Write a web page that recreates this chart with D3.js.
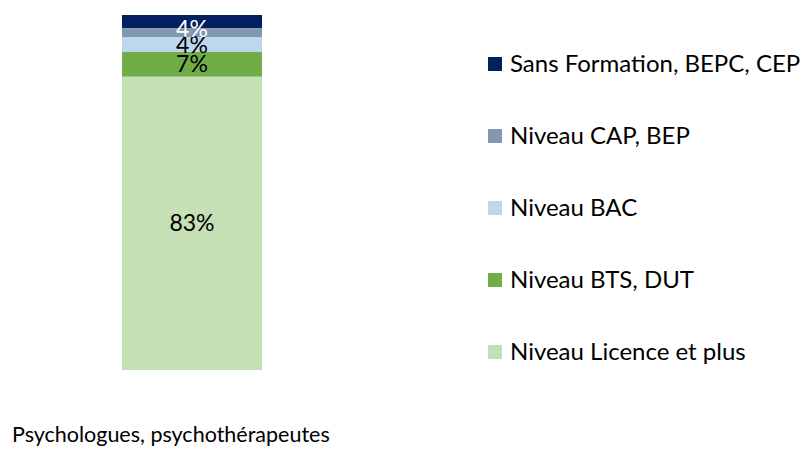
<!DOCTYPE html>
<html>
<head>
    <meta charset='utf-8'>
    <title>Psychologues, psychothérapeutes</title>
    <script src="https://cdn.jsdelivr.net/npm/d3@7"></script>
    <style>
        body { margin: 0; background: #fff; }
        text { font-family: Lato, "Open Sans", sans-serif; }
    </style>
</head>
<body>
    <svg id="chart" width="803" height="452"></svg>

    <script>

        // data (top of the stack first)
        const CATEGORY = "Psychologues, psychothérapeutes";
        const SERIES = ["Sans Formation, BEPC, CEP", "Niveau CAP, BEP", "Niveau BAC", "Niveau BTS, DUT", "Niveau Licence et plus"];
        const VALUES = [3.7, 2.5, 4.2, 7.0, 82.6];
        const LABELS = ["4%", "", "4%", "7%", "83%"];
        const COLORS = ["#002060", "#8497b0", "#bdd7ee", "#70ad47", "#c5e0b4"];
        const LABEL_COLORS = ["#ffffff", "#000000", "#000000", "#000000", "#000000"];

        const svg = d3.select("#chart");

        // stack from the bottom: reverse so Licence sits at the base
        const rows = SERIES.map((s, i) => ({ name: s, value: VALUES[i], label: LABELS[i], color: COLORS[i], labelColor: LABEL_COLORS[i] }));
        let acc = 0;
        rows.slice().reverse().forEach(d => { d.y0 = acc; acc += d.value; d.y1 = acc; });

        const xScale = d3.scaleBand()
            .domain([CATEGORY])
            .range([122, 262])
            .padding(0);

        const yScale = d3.scaleLinear()
            .domain([0, 100])
            .range([370, 15]);

        const bars = svg.append("g");

        bars.selectAll("rect")
            .data(rows)
            .enter()
            .append("rect")
            .attr("x", xScale(CATEGORY))
            .attr("width", xScale.bandwidth())
            .attr("y", d => yScale(d.y1))
            .attr("height", d => yScale(d.y0) - yScale(d.y1))
            .attr("fill", d => d.color);

        // the black labels first, so the white one sits on top like in the original
        bars.selectAll("text")
            .data(rows.filter(d => d.label !== "").reverse())
            .enter()
            .append("text")
            .attr("x", xScale(CATEGORY) + xScale.bandwidth() / 2)
            .attr("y", d => yScale((d.y0 + d.y1) / 2))
            .attr("dy", d => d.labelColor === "#ffffff" ? "0.65em" : "0.35em")
            .attr("text-anchor", "middle")
            .attr("font-size", 23)
            .attr("fill", d => d.labelColor)
            .text(d => d.label);

        // legend on the right
        const legendY = d3.scalePoint()
            .domain(SERIES)
            .range([64, 352]);

        const legend = svg.append("g")
            .selectAll("g")
            .data(rows)
            .enter()
            .append("g")
            .attr("transform", d => "translate(488," + legendY(d.name) + ")");

        legend.append("rect")
            .attr("x", 0)
            .attr("y", -7)
            .attr("width", 14)
            .attr("height", 14)
            .attr("fill", d => d.color);

        legend.append("text")
            .attr("x", 22)
            .attr("dy", "0.35em")
            .attr("font-size", 24)
            .attr("fill", "#000")
            .text(d => d.name);

        // category name under the chart
        svg.append("text")
            .attr("x", 12)
            .attr("y", 442)
            .attr("font-size", 21.5)
            .attr("fill", "#000")
            .text(CATEGORY);

    </script>
</body>
</html>
